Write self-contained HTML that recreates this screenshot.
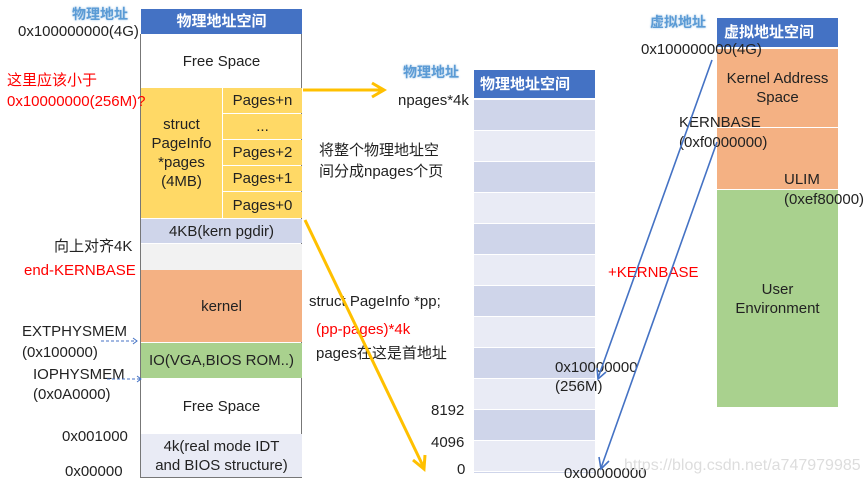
<!DOCTYPE html>
<html><head><meta charset="utf-8"><style>
body{margin:0;width:868px;height:486px;background:#fff;position:relative;overflow:hidden;font-family:"Liberation Sans","Noto Sans CJK SC",sans-serif;font-size:15px;color:#222}
.a{position:absolute;white-space:nowrap}
.c{position:absolute;display:flex;align-items:center;justify-content:center;text-align:center;line-height:19px}
.h{background:#4472C4;color:#fff;font-weight:bold;font-size:15px}
.bl{color:#5B9BD5;font-weight:bold;font-size:14px;text-shadow:0 0 2px #9cc3e6}
.r{color:#f00}
</style></head><body>
<!-- left column -->
<div class="c h" style="left:141px;top:9px;width:161px;height:25px">物理地址空间</div>
<div class="a" style="left:140px;top:34px;width:162px;height:444px;border:1px solid #777;border-top:none;box-sizing:border-box"></div>
<div class="c" style="left:141px;top:35px;width:161px;height:53px">Free Space</div>
<div class="c" style="left:141px;top:88px;width:81px;height:130px;background:#FFD966">struct<br>PageInfo<br>*pages<br>(4MB)</div>
<div class="c" style="left:223px;top:88px;width:79px;height:25px;background:#FFD966">Pages+n</div>
<div class="c" style="left:223px;top:114px;width:79px;height:25px;background:#FFD966">...</div>
<div class="c" style="left:223px;top:140px;width:79px;height:25px;background:#FFD966">Pages+2</div>
<div class="c" style="left:223px;top:166px;width:79px;height:25px;background:#FFD966">Pages+1</div>
<div class="c" style="left:223px;top:192px;width:79px;height:26px;background:#FFD966">Pages+0</div>
<div class="c" style="left:141px;top:219px;width:161px;height:24px;background:#CFD5EA">4KB(kern pgdir)</div>
<div class="c" style="left:141px;top:244px;width:161px;height:26px;background:#F2F2F2"></div>
<div class="c" style="left:141px;top:270px;width:161px;height:72px;background:#F4B183">kernel</div>
<div class="c" style="left:141px;top:343px;width:161px;height:35px;background:#A9D18E">IO(VGA,BIOS ROM..)</div>
<div class="c" style="left:141px;top:378px;width:161px;height:56px">Free Space</div>
<div class="c" style="left:141px;top:434px;width:161px;height:43px;background:#E9EBF5">4k(real mode IDT<br>and BIOS structure)</div>

<div class="a bl" style="left:72px;top:4px">物理地址</div>
<div class="a" style="left:18px;top:23px">0x100000000(4G)</div>
<div class="a r" style="left:7px;top:70px;line-height:21px">这里应该小于<br>0x10000000(256M)?</div>
<div class="a" style="left:54px;top:235px">向上对齐4K</div>
<div class="a r" style="left:24px;top:262px">end-KERNBASE</div>
<div class="a" style="left:22px;top:321px;line-height:21px">EXTPHYSMEM<br>(0x100000)</div>
<div class="a" style="left:33px;top:365px;line-height:20px">IOPHYSMEM<br>(0x0A0000)</div>
<div class="a" style="left:62px;top:428px">0x001000</div>
<div class="a" style="left:65px;top:463px">0x00000</div>

<!-- middle column -->
<div class="a bl" style="left:403px;top:62px">物理地址</div>
<div class="c h" style="left:474px;top:70px;width:121px;height:28px;justify-content:flex-start;padding-left:6px;box-sizing:border-box">物理地址空间</div>
<div class="a" style="left:474px;top:100px;width:121px;height:373px;background:repeating-linear-gradient(#CFD5EA 0 30px,#fff 30px 31px,#E9EBF5 31px 61px,#fff 61px 62px)"></div>
<div class="a" style="left:398px;top:92px">npages*4k</div>
<div class="a" style="left:319px;top:140px;line-height:21px">将整个物理地址空<br>间分成npages个页</div>
<div class="a" style="left:309px;top:293px">struct PageInfo *pp;</div>
<div class="a r" style="left:316px;top:321px">(pp-pages)*4k</div>
<div class="a" style="left:316px;top:342px">pages在这是首地址</div>
<div class="a" style="left:431px;top:402px">8192</div>
<div class="a" style="left:431px;top:434px">4096</div>
<div class="a" style="left:457px;top:461px">0</div>
<div class="a" style="left:555px;top:358px;line-height:19px">0x10000000<br>(256M)</div>
<div class="a" style="left:564px;top:465px">0x00000000</div>

<!-- right column -->
<div class="a bl" style="left:650px;top:12px">虚拟地址</div>
<div class="c h" style="left:717px;top:18px;width:121px;height:29px;justify-content:flex-start;padding-left:7px;box-sizing:border-box">虚拟地址空间</div>
<div class="c" style="left:717px;top:49px;width:121px;height:78px;background:#F4B183">Kernel Address<br>Space</div>
<div class="a" style="left:717px;top:128px;width:121px;height:61px;background:#F4B183"></div>
<div class="c" style="left:717px;top:190px;width:121px;height:217px;background:#A9D18E">User<br>Environment</div>
<div class="a" style="left:641px;top:41px">0x100000000(4G)</div>
<div class="a" style="left:679px;top:113px;line-height:20px">KERNBASE<br>(0xf0000000)</div>
<div class="a" style="left:784px;top:170px;line-height:20px">ULIM<br>(0xef80000)</div>
<div class="a r" style="left:608px;top:264px">+KERNBASE</div>
<div class="a" style="left:624px;top:457px;color:#ddd;font-size:16px">https://blog.csdn.net/a747979985</div>

<svg class="a" style="left:0;top:0" width="868" height="486">
<g stroke="#FFC000" stroke-width="3" fill="none">
<line x1="303" y1="90" x2="383" y2="90"/><polyline points="372,83 384,90 372,97"/>
<line x1="305" y1="220" x2="424" y2="468"/><polyline points="413,460 424,469 425,455"/>
</g>
<g stroke="#4472C4" stroke-width="1.6" fill="none">
<line x1="712" y1="60" x2="598" y2="378"/><polyline points="597,368 598,379 606,372"/>
<line x1="717" y1="142" x2="601" y2="468"/><polyline points="599,457 601,469 609,461"/>
</g>
<g stroke="#4472C4" stroke-width="1" stroke-dasharray="3,2" fill="none">
<line x1="101" y1="341" x2="137" y2="341"/><line x1="107" y1="379" x2="141" y2="379"/>
</g>
<g stroke="#4472C4" stroke-width="1" fill="none">
<polyline points="133,338 137,341 133,344"/><polyline points="137,376 141,379 137,382"/>
</g>
</svg>
</body></html>
